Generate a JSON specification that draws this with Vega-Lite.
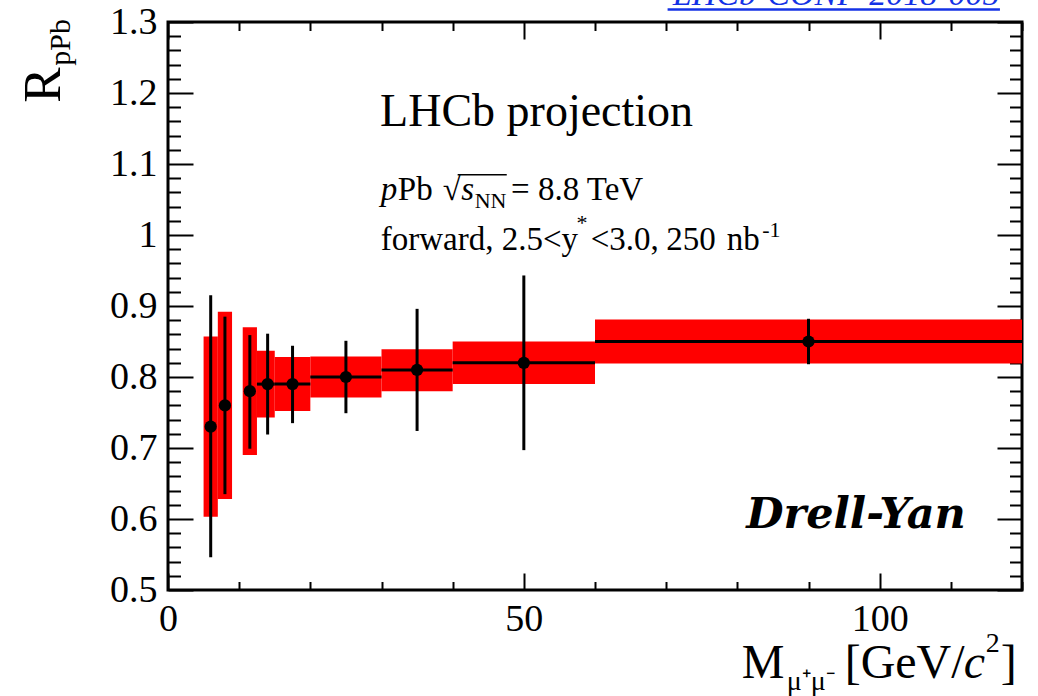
{
  "$schema": "https://vega.github.io/schema/vega-lite/v6.json",
  "width": 854,
  "height": 568,
  "autosize": "none",
  "padding": {"left": 168, "top": 22, "right": 16, "bottom": 106},
  "background": "white",
  "config": {
    "view": {"stroke": "black", "strokeWidth": 3},
    "font": "Liberation Serif",
    "axis": {"grid": false, "domain": false, "tickColor": "black", "tickWidth": 2, "labelFont": "Liberation Serif", "labelFontSize": 38, "labelColor": "black", "title": null, "labelFlush": false}
  },
  "datasets": {
    "pts": [
      {"m": 6, "r": 0.730, "m_lo": 5, "m_hi": 7, "sys_lo": 0.603, "sys_hi": 0.857, "stat_lo": 0.546, "stat_hi": 0.915},
      {"m": 8, "r": 0.760, "m_lo": 7, "m_hi": 9, "sys_lo": 0.628, "sys_hi": 0.892, "stat_lo": 0.635, "stat_hi": 0.885},
      {"m": 11.5, "r": 0.780, "m_lo": 10.5, "m_hi": 12.5, "sys_lo": 0.690, "sys_hi": 0.870, "stat_lo": 0.699, "stat_hi": 0.859},
      {"m": 14, "r": 0.790, "m_lo": 12.5, "m_hi": 15, "sys_lo": 0.743, "sys_hi": 0.837, "stat_lo": 0.719, "stat_hi": 0.861},
      {"m": 17.5, "r": 0.790, "m_lo": 15, "m_hi": 20, "sys_lo": 0.752, "sys_hi": 0.828, "stat_lo": 0.735, "stat_hi": 0.844},
      {"m": 25, "r": 0.800, "m_lo": 20, "m_hi": 30, "sys_lo": 0.771, "sys_hi": 0.829, "stat_lo": 0.749, "stat_hi": 0.851},
      {"m": 35, "r": 0.810, "m_lo": 30, "m_hi": 40, "sys_lo": 0.780, "sys_hi": 0.839, "stat_lo": 0.724, "stat_hi": 0.896},
      {"m": 50, "r": 0.820, "m_lo": 40, "m_hi": 60, "sys_lo": 0.790, "sys_hi": 0.850, "stat_lo": 0.697, "stat_hi": 0.943},
      {"m": 90, "r": 0.850, "m_lo": 60, "m_hi": 120, "sys_lo": 0.819, "sys_hi": 0.881, "stat_lo": 0.818, "stat_hi": 0.882}
    ]
  },
  "resolve": {"axis": {"x": "independent", "y": "independent"}},
  "layer": [
    {
      "data": {"name": "pts"},
      "mark": {"type": "rect", "color": "#ff0000"},
      "encoding": {
        "x": {"field": "m_lo", "type": "quantitative",
          "scale": {"domain": [0, 120], "nice": false, "zero": false},
          "axis": {"orient": "bottom", "values": [0,10,20,30,40,50,60,70,80,90,100,110,120],
            "tickSize": {"expr": "datum.value % 50 === 0 ? -17 : -8.5"},
            "labelExpr": "datum.value % 50 === 0 ? datum.label : ''",
            "labelFont": "Liberation Serif", "labelFontSize": 38, "labelFlush": false,
            "labelPadding": 27}},
        "x2": {"field": "m_hi"},
        "y": {"field": "sys_lo", "type": "quantitative",
          "scale": {"domain": [0.5, 1.3], "nice": false, "zero": false},
          "axis": {"orient": "left", "values": [0.5,0.52,0.54,0.56,0.58,0.6,0.62,0.64,0.66,0.68,0.7,0.72,0.74,0.76,0.78,0.8,0.82,0.84,0.86,0.88,0.9,0.92,0.94,0.96,0.98,1,1.02,1.04,1.06,1.08,1.1,1.12,1.14,1.16,1.18,1.2,1.22,1.24,1.26,1.28,1.3],
            "tickSize": {"expr": "abs(datum.value*10 - round(datum.value*10)) < 0.01 ? -25 : -12.5"},
            "labelExpr": "abs(datum.value*10 - round(datum.value*10)) < 0.01 ? format(datum.value, '.1~f') : ''",
            "labelFont": "Liberation Serif", "labelFontSize": 38, "labelFlush": false,
            "labelPadding": 36}},
        "y2": {"field": "sys_hi"}
      }
    },
    {
      "data": {"name": "pts"},
      "transform": [{"filter": "datum.m >= 13"}],
      "mark": {"type": "rule", "color": "black", "strokeWidth": 3},
      "encoding": {
        "x": {"field": "m_lo", "type": "quantitative", "scale": {"domain": [0, 120], "nice": false, "zero": false},
          "axis": {"orient": "top", "values": [0,10,20,30,40,50,60,70,80,90,100,110,120],
            "tickSize": {"expr": "datum.value % 50 === 0 ? -17 : -8.5"}, "labels": false}},
        "x2": {"field": "m_hi"},
        "y": {"field": "r", "type": "quantitative", "scale": {"domain": [0.5, 1.3], "nice": false, "zero": false},
          "axis": {"orient": "right", "values": [0.5,0.52,0.54,0.56,0.58,0.6,0.62,0.64,0.66,0.68,0.7,0.72,0.74,0.76,0.78,0.8,0.82,0.84,0.86,0.88,0.9,0.92,0.94,0.96,0.98,1,1.02,1.04,1.06,1.08,1.1,1.12,1.14,1.16,1.18,1.2,1.22,1.24,1.26,1.28,1.3],
            "tickSize": {"expr": "abs(datum.value*10 - round(datum.value*10)) < 0.01 ? -25 : -12.5"}, "labels": false}}
      }
    },
    {
      "data": {"name": "pts"},
      "mark": {"type": "rule", "color": "black", "strokeWidth": 3},
      "encoding": {
        "x": {"field": "m", "type": "quantitative", "axis": null},
        "y": {"field": "stat_lo", "type": "quantitative", "axis": null},
        "y2": {"field": "stat_hi"}
      }
    },
    {
      "data": {"name": "pts"},
      "mark": {"type": "point", "shape": "circle", "filled": true, "color": "black", "opacity": 1, "size": 150},
      "encoding": {
        "x": {"field": "m", "type": "quantitative", "axis": null},
        "y": {"field": "r", "type": "quantitative", "axis": null}
      }
    },
    {
      "data": {"values": [{"x": 29.8, "y": 1.154, "t": "LHCb projection"}]},
      "mark": {"type": "text", "font": "Liberation Serif", "fontSize": 46, "align": "left", "baseline": "alphabetic", "color": "black"},
      "encoding": {"x": {"field": "x", "type": "quantitative", "axis": null}, "y": {"field": "y", "type": "quantitative", "axis": null}, "text": {"field": "t"}}
    },
    {
      "data": {"values": [
        {"x": 32.3, "y": 1.0497, "t": "Pb"},
        {"x": 38.6, "y": 1.0497, "t": "√"},
        {"x": 48.2, "y": 1.0497, "t": "= 8.8 TeV"},
        {"x": 29.9, "y": 0.9793, "t": "forward, 2.5<y"},
        {"x": 59.4, "y": 0.9793, "t": "<3.0,"},
        {"x": 70.0, "y": 0.9793, "t": "250"},
        {"x": 78.5, "y": 0.9793, "t": "nb"}
      ]},
      "mark": {"type": "text", "font": "Liberation Serif", "fontSize": 33, "align": "left", "baseline": "alphabetic", "color": "black"},
      "encoding": {"x": {"field": "x", "type": "quantitative", "axis": null}, "y": {"field": "y", "type": "quantitative", "axis": null}, "text": {"field": "t"}}
    },
    {
      "data": {"values": [
        {"x": 29.9, "y": 1.0497, "t": "p"},
        {"x": 41.2, "y": 1.0497, "t": "s"}
      ]},
      "mark": {"type": "text", "font": "Liberation Serif", "fontSize": 33, "fontStyle": "italic", "align": "left", "baseline": "alphabetic", "color": "black"},
      "encoding": {"x": {"field": "x", "type": "quantitative", "axis": null}, "y": {"field": "y", "type": "quantitative", "axis": null}, "text": {"field": "t"}}
    },
    {
      "data": {"values": [
        {"x": 43.1, "y": 1.0385, "t": "NN"},
        {"x": 57.4, "y": 1.0075, "t": "*"},
        {"x": 83.5, "y": 0.997, "t": "-1"}
      ]},
      "mark": {"type": "text", "font": "Liberation Serif", "fontSize": 22, "align": "left", "baseline": "alphabetic", "color": "black"},
      "encoding": {"x": {"field": "x", "type": "quantitative", "axis": null}, "y": {"field": "y", "type": "quantitative", "axis": null}, "text": {"field": "t"}}
    },
    {
      "data": {"values": [{"x1": 40.7, "x2": 47.6, "y": 1.085}]},
      "mark": {"type": "rule", "color": "black", "strokeWidth": 1.5},
      "encoding": {"x": {"field": "x1", "type": "quantitative", "axis": null}, "x2": {"field": "x2"}, "y": {"field": "y", "type": "quantitative", "axis": null}}
    },
    {
      "data": {"values": [{"x": 112.1, "y": 0.5877, "t": "Drell-Yan"}]},
      "mark": {"type": "text", "font": "DejaVu Serif", "fontSize": 43, "fontStyle": "italic", "fontWeight": "bold", "align": "right", "baseline": "alphabetic", "color": "black"},
      "encoding": {"x": {"field": "x", "type": "quantitative", "axis": null}, "y": {"field": "y", "type": "quantitative", "axis": null}, "text": {"field": "t"}}
    },
    {
      "data": {"values": [{"x": -15.17, "y": 1.1863, "t": "R"}]},
      "mark": {"type": "text", "font": "Liberation Serif", "fontSize": 53, "angle": -90, "align": "left", "baseline": "alphabetic", "color": "black"},
      "encoding": {"x": {"field": "x", "type": "quantitative", "axis": null}, "y": {"field": "y", "type": "quantitative", "axis": null}, "text": {"field": "t"}}
    },
    {
      "data": {"values": [{"x": -13.76, "y": 1.2384, "t": "pPb"}]},
      "mark": {"type": "text", "font": "Liberation Serif", "fontSize": 30, "angle": -90, "align": "left", "baseline": "alphabetic", "color": "black"},
      "encoding": {"x": {"field": "x", "type": "quantitative", "axis": null}, "y": {"field": "y", "type": "quantitative", "axis": null}, "text": {"field": "t"}}
    },
    {
      "data": {"values": [
        {"x": 80.62, "y": 0.3765, "t": "M"},
        {"x": 95.08, "y": 0.3765, "t": "[GeV/"},
        {"x": 117.0, "y": 0.3765, "t": "]"}
      ]},
      "mark": {"type": "text", "font": "Liberation Serif", "fontSize": 48, "align": "left", "baseline": "alphabetic", "color": "black"},
      "encoding": {"x": {"field": "x", "type": "quantitative", "axis": null}, "y": {"field": "y", "type": "quantitative", "axis": null}, "text": {"field": "t"}}
    },
    {
      "data": {"values": [{"x": 111.8, "y": 0.3765, "t": "c"}]},
      "mark": {"type": "text", "font": "Liberation Serif", "fontSize": 48, "fontStyle": "italic", "align": "left", "baseline": "alphabetic", "color": "black"},
      "encoding": {"x": {"field": "x", "type": "quantitative", "axis": null}, "y": {"field": "y", "type": "quantitative", "axis": null}, "text": {"field": "t"}}
    },
    {
      "data": {"values": [
        {"x": 86.94, "y": 0.3597, "t": "μ⁺μ⁻"},
        {"x": 114.9, "y": 0.4131, "t": "2"}
      ]},
      "mark": {"type": "text", "font": "Liberation Serif", "fontSize": 28, "align": "left", "baseline": "alphabetic", "color": "black"},
      "encoding": {"x": {"field": "x", "type": "quantitative", "axis": null}, "y": {"field": "y", "type": "quantitative", "axis": null}, "text": {"field": "t"}}
    },
    {
      "data": {"values": [{"x": 116.85, "y": 1.3243, "t": "LHCb-CONF-2018-005"}]},
      "mark": {"type": "text", "font": "Liberation Serif", "fontSize": 34, "fontStyle": "italic", "align": "right", "baseline": "alphabetic", "color": "#1432e6"},
      "encoding": {"x": {"field": "x", "type": "quantitative", "axis": null}, "y": {"field": "y", "type": "quantitative", "axis": null}, "text": {"field": "t"}}
    },
    {
      "data": {"values": [{"x1": 70.2, "x2": 116.9, "y": 1.3176}]},
      "mark": {"type": "rule", "color": "#1432e6", "strokeWidth": 2.5},
      "encoding": {"x": {"field": "x1", "type": "quantitative", "axis": null}, "x2": {"field": "x2"}, "y": {"field": "y", "type": "quantitative", "axis": null}}
    }
  ]
}
